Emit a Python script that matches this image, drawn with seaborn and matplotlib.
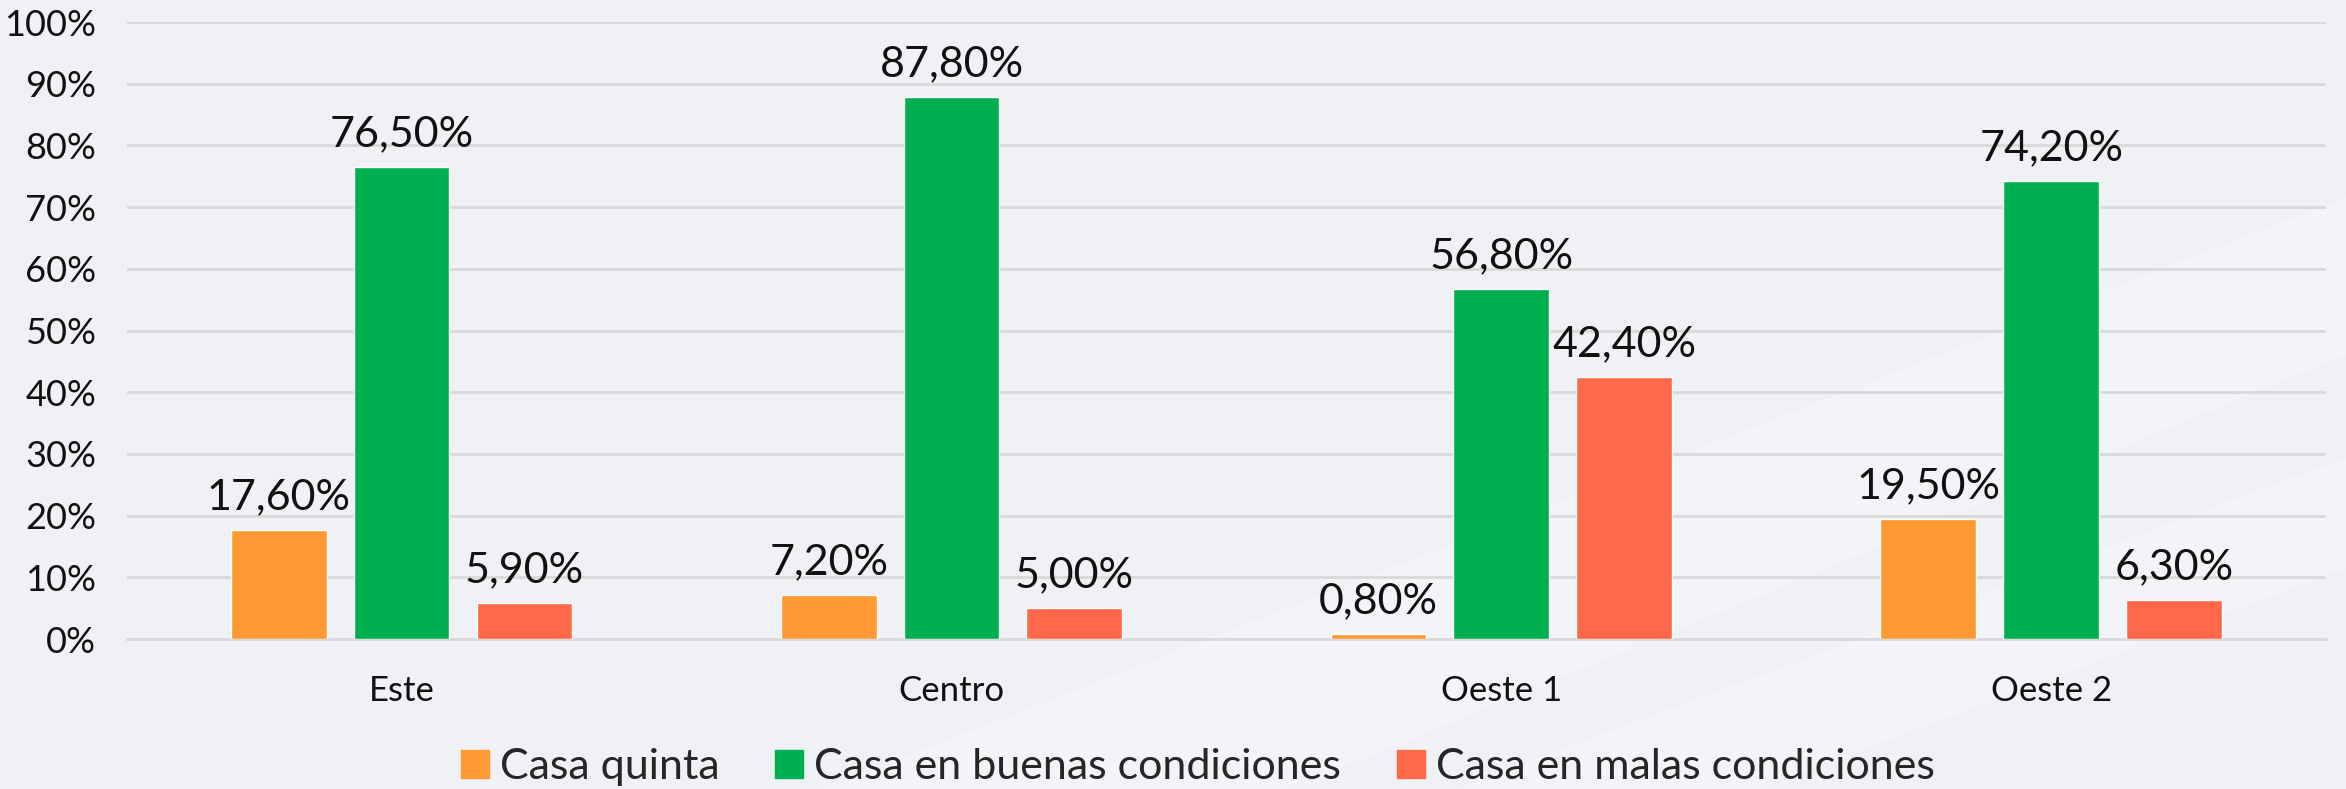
import pandas as pd
import matplotlib.pyplot as plt
import matplotlib.ticker as mticker
from matplotlib.patches import Polygon
import seaborn as sns

# Datos
zonas = ["Este", "Centro", "Oeste 1", "Oeste 2"]
tipos = ["Casa quinta", "Casa en buenas condiciones", "Casa en malas condiciones"]
casa_quinta = [17.6, 7.2, 0.8, 19.5]
casa_buenas = [76.5, 87.8, 56.8, 74.2]
casa_malas = [5.9, 5.0, 42.4, 6.3]
colores = ["#FF9933", "#00B050", "#FF6849"]

df = pd.DataFrame({
    "Zona": zonas * 3,
    "Tipo": [tipos[0]] * 4 + [tipos[1]] * 4 + [tipos[2]] * 4,
    "Valor": casa_quinta + casa_buenas + casa_malas,
})

sns.set_style("white")
plt.rcParams["font.family"] = ["Lato", "DejaVu Sans"]

fig = plt.figure(figsize=(23.46, 7.89), dpi=100)
fig.patch.set_facecolor("#F0F1F5")

# franjas diagonales suaves del fondo (detras de todo)
for pts in [[(0.35, 0.0), (0.55, 0.0), (1.0, 0.55), (1.0, 0.75)],
            [(0.62, 0.0), (0.75, 0.0), (1.0, 0.28), (1.0, 0.42)]]:
    fig.patches.append(Polygon(pts, closed=True, transform=fig.transFigure,
                               facecolor="white", alpha=0.22, edgecolor="none", zorder=-10))

ax = fig.add_axes([0.054, 0.19, 0.9375, 0.782])
ax.set_facecolor("none")

sns.barplot(data=df, x="Zona", y="Valor", hue="Tipo", palette=colores,
            width=0.67, gap=0.22, saturation=1, ax=ax, legend=False, zorder=3)

for cont in ax.containers:
    ax.bar_label(cont, labels=[f"{v:.2f}%".replace(".", ",") for v in cont.datavalues],
                 padding=10, fontsize=31, color="#111111")

ax.set_ylim(0, 100)
ax.set_xlim(-0.5, 3.5)
ax.yaxis.set_major_locator(mticker.MultipleLocator(10))
ax.yaxis.set_major_formatter(mticker.FuncFormatter(lambda v, p: f"{v:.0f}%"))
ax.grid(axis="y", color="#D9D9D9", linewidth=2, zorder=0)
ax.set_axisbelow(True)

for s in ["left", "right", "top"]:
    ax.spines[s].set_visible(False)
ax.spines["bottom"].set_color("#D9D9D9")
ax.spines["bottom"].set_linewidth(2)

ax.tick_params(axis="y", length=0, pad=22, labelsize=26, labelcolor="#111111")
ax.tick_params(axis="x", which="major", length=0, pad=26, labelsize=25, labelcolor="#111111")
ax.set_xticks([-0.5, 0.5, 1.5, 2.5, 3.5], minor=True)
ax.tick_params(axis="x", which="minor", length=12, width=2, color="#D9D9D9")
ax.set_xlabel("")
ax.set_ylabel("")

handles = [plt.Rectangle((0, 0), 1, 1, color=c) for c in colores]
ax.legend(handles, tipos, loc="upper center", bbox_to_anchor=(0.487, -0.135), ncol=3,
          frameon=False, fontsize=31, handlelength=0.65, handleheight=0.65,
          handletextpad=0.25, columnspacing=1.3, borderpad=0.1)

fig.savefig("out.png", dpi=100, facecolor=fig.get_facecolor())
